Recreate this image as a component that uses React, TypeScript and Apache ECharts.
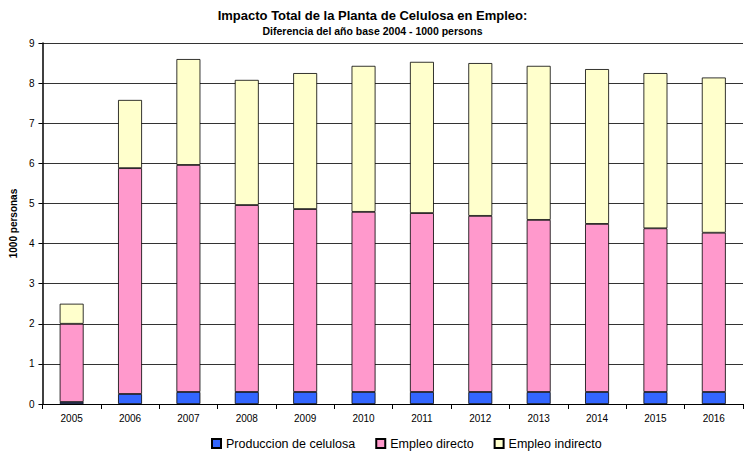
import React, { useEffect, useRef } from "react";
import * as echarts from "echarts";

const years = ["2005","2006","2007","2008","2009","2010","2011","2012","2013","2014","2015","2016"];
const produccion = [0.05, 0.25, 0.3, 0.3, 0.3, 0.3, 0.3, 0.3, 0.3, 0.3, 0.3, 0.3];
const directo = [1.95, 5.63, 5.66, 4.66, 4.56, 4.49, 4.46, 4.39, 4.29, 4.19, 4.08, 3.97];
const indirecto = [0.5, 1.7, 2.64, 3.12, 3.39, 3.64, 3.77, 3.81, 3.84, 3.86, 3.87, 3.87];
const yTicks = [0, 1, 2, 3, 4, 5, 6, 7, 8, 9];

const FONT = "'Liberation Sans', Arial, sans-serif";

export default function App() {
  const ref = useRef<HTMLDivElement>(null);
  useEffect(() => {
    if (!ref.current) return;
    const chart = echarts.init(ref.current, undefined, { renderer: "svg" });
    const barStyle = (color: string) => ({ color, borderColor: "#000", borderWidth: 0.8 });
    chart.setOption({
      animation: false,
      textStyle: { fontFamily: FONT },
      title: {
        text: "Impacto Total de la Planta de Celulosa en Empleo:",
        subtext: "Diferencia del año base 2004 - 1000 persons",
        left: "center",
        top: 4,
        itemGap: 3,
        textStyle: { fontFamily: FONT, fontSize: 13, fontWeight: "bold", color: "#000" },
        subtextStyle: { fontFamily: FONT, fontSize: 10.5, fontWeight: "bold", color: "#000" },
      },
      legend: {
        bottom: -1,
        left: 206,
        icon: "rect",
        itemWidth: 9,
        itemHeight: 9,
        itemGap: 20,
        textStyle: { fontFamily: FONT, fontSize: 12.5, color: "#000" },
        data: ["Produccion de celulosa", "Empleo directo", "Empleo indirecto"],
      },
      grid: { left: 40, right: 2, top: 43, bottom: 50, containLabel: false },
      xAxis: {
        type: "category",
        data: years,
        axisLine: { lineStyle: { color: "#000" } },
        axisTick: { show: true, alignWithLabel: false, lineStyle: { color: "#000" } },
        axisLabel: { fontSize: 10, color: "#000", margin: 9 },
      },
      yAxis: {
        type: "value",
        min: yTicks[0],
        max: yTicks[yTicks.length - 1],
        interval: 1,
        name: "1000 personas",
        nameLocation: "middle",
        nameGap: 24,
        nameRotate: 90,
        nameTextStyle: { fontFamily: FONT, fontSize: 10, fontWeight: "bold", color: "#000" },
        axisLine: { show: true, lineStyle: { color: "#000", width: 1.5 } },
        axisTick: { show: true, length: 4, lineStyle: { color: "#000" } },
        axisLabel: { fontSize: 10, color: "#000", margin: 8 },
        splitLine: { show: true, lineStyle: { color: "#333", width: 1 } },
      },
      series: [
        { name: "Produccion de celulosa", type: "bar", stack: "t", barWidth: "41%", data: produccion, itemStyle: barStyle("#3366FF") },
        { name: "Empleo directo", type: "bar", stack: "t", barWidth: "41%", data: directo, itemStyle: barStyle("#FF99CC") },
        { name: "Empleo indirecto", type: "bar", stack: "t", barWidth: "41%", data: indirecto, itemStyle: barStyle("#FFFFCC") },
      ],
    });
    return () => chart.dispose();
  }, []);
  return <div ref={ref} style={{ width: 745, height: 454, position: "absolute", left: 0, top: 0, background: "#fff" }} />;
}
